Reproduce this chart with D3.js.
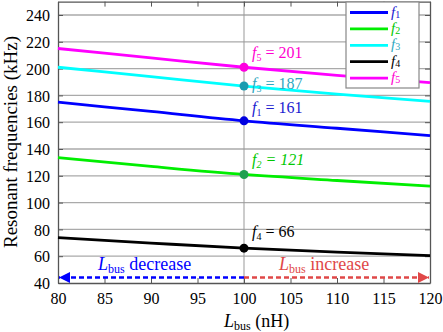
<!DOCTYPE html>
<meta charset="utf-8">
<style>
  body { margin: 0; background: #fff; }
  text { font-family: "Liberation Serif", "DejaVu Serif", serif; }
</style>
<svg width="443" height="332"></svg>
<script src="https://cdn.jsdelivr.net/npm/d3@7"></script>
<script>

// data
const inductance = [80, 90, 100, 110, 120];
const f1 = [175, 168, 161, 155.5, 150];
const f2 = [133.5, 127, 121, 116.5, 112.3];
const f3 = [201, 194, 187, 181, 175.5];
const f4 = [73.8, 69.8, 66, 63, 60.5];
const f5 = [215, 208, 201, 195, 189.5];
const xTicks = [80, 85, 90, 95, 100, 105, 110, 115, 120];
const yTicks = [40, 60, 80, 100, 120, 140, 160, 180, 200, 220, 240];
const nominal = 100;

const series = [
  {name: "1", values: f1, color: "#0000ff", dot: "#0000e0", text: "#2020d0"},
  {name: "2", values: f2, color: "#00ee00", dot: "#1fa050", text: "#00c800"},
  {name: "3", values: f3, color: "#00ffff", dot: "#1a9cb0", text: "#30a8c0"},
  {name: "4", values: f4, color: "#000000", dot: "#000000", text: "#000000"},
  {name: "5", values: f5, color: "#ff00ff", dot: "#ff00e0", text: "#ff00d0"}
];

const serif = "Liberation Serif";
const svg = d3.select("svg");
const mLeft = 58, mRight = 430, mTop = 1.6, mBottom = 283;

const x = d3.scaleLinear().domain([80, 120]).range([mLeft, mRight]);
const y = d3.scaleLinear().domain([40, 250]).range([mBottom, mTop]);

// grid
svg.append("g").selectAll("line")
  .data(yTicks.slice(1))
  .join("line")
  .attr("x1", mLeft).attr("x2", mRight)
  .attr("y1", d => y(d)).attr("y2", d => y(d))
  .attr("stroke", "#aaa").attr("stroke-width", 1.3);

svg.append("line")
  .attr("x1", x(nominal)).attr("x2", x(nominal))
  .attr("y1", mTop).attr("y2", mBottom)
  .attr("stroke", "#999").attr("stroke-width", 1);

// axes
const xb = svg.append("g")
  .attr("transform", `translate(0,${mBottom})`)
  .call(d3.axisBottom(x).tickValues(xTicks).tickSizeInner(-5).tickSizeOuter(0).tickPadding(10));
const xt = svg.append("g")
  .attr("transform", `translate(0,${mTop})`)
  .call(d3.axisTop(x).tickValues(xTicks).tickSizeInner(-5).tickSizeOuter(0).tickFormat(""));
const yl = svg.append("g")
  .attr("transform", `translate(${mLeft},0)`)
  .call(d3.axisLeft(y).tickValues(yTicks).tickSizeInner(-5).tickSizeOuter(0).tickPadding(8));
const yr = svg.append("g")
  .attr("transform", `translate(${mRight},0)`)
  .call(d3.axisRight(y).tickValues(yTicks).tickSizeInner(-5).tickSizeOuter(0).tickFormat(""));

[xb, xt, yl, yr].forEach(g => {
  g.attr("font-family", serif).attr("font-size", 16);
  g.selectAll(".tick text").attr("fill", "#000").style("font-family", serif);
  g.selectAll(".domain").attr("stroke", "#555").attr("stroke-width", 1.3);
  g.selectAll(".tick line").attr("stroke", "#555");
});
yl.selectAll(".tick text").attr("dy", "0.35em");

// arrows
const defs = svg.append("defs");
[["arrBlue", "#0000ff"], ["arrRed", "#e04848"]].forEach(([id, c]) => {
  defs.append("marker")
    .attr("id", id).attr("viewBox", "0 0 10 10")
    .attr("refX", 10).attr("refY", 5)
    .attr("markerWidth", 17).attr("markerHeight", 11)
    .attr("markerUnits", "userSpaceOnUse")
    .attr("orient", "auto")
    .append("path").attr("d", "M0,0L10,5L0,10Z").attr("fill", c);
});
const arrowY = 277.5;
svg.append("line")
  .attr("x1", x(nominal)).attr("x2", x(80) + 1)
  .attr("y1", arrowY).attr("y2", arrowY)
  .attr("stroke", "#0000ff").attr("stroke-width", 2.6)
  .attr("stroke-dasharray", "5,3")
  .attr("marker-end", "url(#arrBlue)");
svg.append("line")
  .attr("x1", x(nominal)).attr("x2", x(120) - 1)
  .attr("y1", arrowY).attr("y2", arrowY)
  .attr("stroke", "#e04848").attr("stroke-width", 2.6)
  .attr("stroke-dasharray", "5,3")
  .attr("marker-end", "url(#arrRed)");

const dec = svg.append("text").attr("x", 98).attr("y", 270).attr("fill", "#0000ff").style("font-size", "18px");
dec.append("tspan").attr("font-style", "italic").text("L");
dec.append("tspan").style("font-size", "12px").attr("dy", 3).text("bus");
dec.append("tspan").attr("dy", -3).text(" decrease");

const inc = svg.append("text").attr("x", 279).attr("y", 270).attr("fill", "#e04848").style("font-size", "18px");
inc.append("tspan").attr("font-style", "italic").text("L");
inc.append("tspan").style("font-size", "12px").attr("dy", 3).text("bus");
inc.append("tspan").attr("dy", -3).text(" increase");

// curves
const line = d3.line()
  .x((d, i) => x(inductance[i]))
  .y(d => y(d))
  .curve(d3.curveMonotoneX);

svg.append("g").selectAll("path")
  .data(series)
  .join("path")
  .attr("d", d => line(d.values))
  .attr("fill", "none")
  .attr("stroke", d => d.color)
  .attr("stroke-width", 2.8);

// markers at nominal
const iNom = inductance.indexOf(nominal);
svg.append("g").selectAll("circle")
  .data(series)
  .join("circle")
  .attr("cx", x(nominal))
  .attr("cy", d => y(d.values[iNom]))
  .attr("r", 4.5)
  .attr("fill", d => d.dot);

// value labels
const labelOffset = {"1": 8, "2": 9, "3": -3, "4": 11, "5": 9};
series.forEach(s => {
  const v = s.values[iNom];
  const t = svg.append("text")
    .attr("x", x(nominal) + 8)
    .attr("y", y(v) - labelOffset[s.name])
    .attr("fill", s.text)
    .style("font-size", "16px")
    .attr("font-style", s.name === "2" ? "italic" : null);
  t.append("tspan").attr("font-style", "italic").text("f");
  t.append("tspan").style("font-size", "10px").attr("dy", 3).text(s.name);
  t.append("tspan").attr("dy", -3).text(" = " + Math.round(v));
});

// legend
const lg = svg.append("g");
lg.append("rect")
  .attr("x", 346).attr("y", 2).attr("width", 73).attr("height", 86)
  .attr("fill", "#fff").attr("stroke", "#888").attr("stroke-width", 1.2);
series.forEach((s, i) => {
  const yy = 12.5 + i * 16.4;
  lg.append("line")
    .attr("x1", 350).attr("x2", 388).attr("y1", yy).attr("y2", yy)
    .attr("stroke", s.color).attr("stroke-width", 2.8);
  const t = lg.append("text").attr("x", 391).attr("y", yy + 4).attr("fill", s.text).style("font-size", "14px");
  t.append("tspan").attr("font-style", "italic").style("font-size", "15px").text("f");
  t.append("tspan").style("font-size", "10px").attr("dy", 1).text(s.name);
});

// axis titles
const xl = svg.append("text").attr("x", 224).attr("y", 327).style("font-size", "18px");
xl.append("tspan").attr("font-style", "italic").text("L");
xl.append("tspan").style("font-size", "12px").attr("dy", 3).text("bus");
xl.append("tspan").attr("dy", -3).text(" (nH)");

svg.append("text")
  .attr("transform", `translate(17,142) rotate(-90)`)
  .attr("text-anchor", "middle")
  .style("font-size", "19px")
  .text("Resonant frequencies (kHz)");
</script>
